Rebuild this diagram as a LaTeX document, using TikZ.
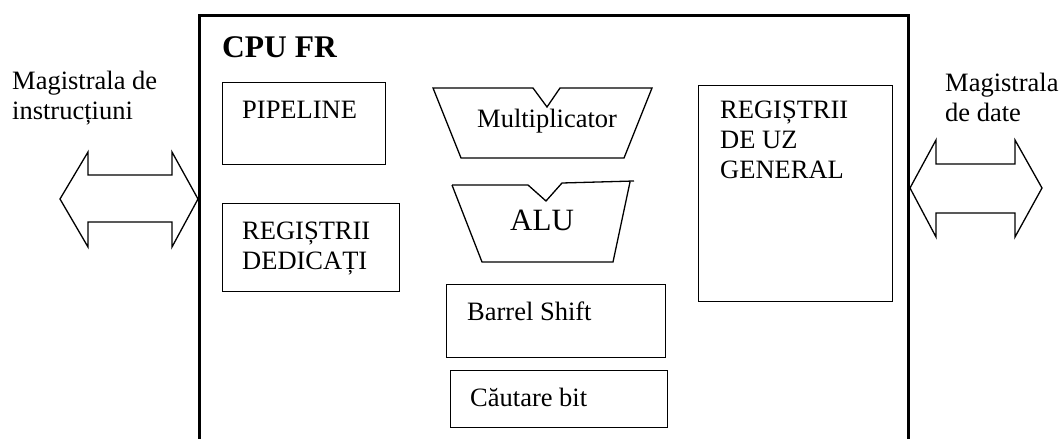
\documentclass[tikz,border=0pt]{standalone}
\usepackage{fontspec}
\setmainfont{Liberation Serif}
\begin{document}
\begin{tikzpicture}[x=1pt,y=-1pt,
  thin line/.style={draw=black,line width=1.3pt},
  cpu line/.style={draw=black,line width=3pt},
  block/.style={thin line,fill=none,inner sep=0pt,anchor=north west},
  txt/.style={anchor=base west,inner sep=0pt,font=\fontsize{26.5}{30}\selectfont},
  bigtxt/.style={anchor=base west,inner sep=0pt,font=\fontsize{31}{34}\selectfont},
  title/.style={anchor=base west,inner sep=0pt,font=\fontsize{31.5}{34}\selectfont\bfseries},
  bus/.style={thin line,line join=miter}]
\clip (0,0) rectangle (1061,439);
\fill[white] (0,0) rectangle (1061,439);

% processor outline (open at the bottom)
\draw[cpu line] (199,450) -- (199,15) -- (908,15) -- (908,450);
\node[title] (cpu) at (222,57) {CPU FR};

% left block column
\node[block,minimum width=163pt,minimum height=82pt] (pipe) at (222,82) {};
\node[txt] (pipetxt) at (242,118) {PIPELINE};
\node[block,minimum width=177pt,minimum height=88pt] (ded) at (222,203) {};
\node[txt] (dedtxt) at (242,239) {\vtop{\hbox{REGIȘTRII}\hbox{DEDICAȚI}}};

% arithmetic units
\draw[thin line,line join=miter] (433,88) -- (533,88) -- (547,107) -- (560,88) -- (652,88)
  -- (624,158) -- (461,158) -- cycle;
\node[txt] (mul) at (477,127) {Multiplicator};
\draw[thin line] (452,185) -- (528,185) -- (546,201) -- (562,183) -- (634,181);
\draw[thin line] (630,182) -- (613,262) -- (482,262) -- (452,185);
\node[bigtxt] (alu) at (510,230) {ALU};

\node[block,minimum width=219pt,minimum height=73pt] (barrel) at (446,284) {};
\node[txt] (barreltxt) at (467,320) {Barrel Shift};
\node[block,minimum width=217pt,minimum height=57pt] (cautare) at (450,370) {};
\node[txt] (cautaretxt) at (470,406) {Căutare bit};

% general purpose registers
\node[block,minimum width=194pt,minimum height=216pt] (gen) at (698,85) {};
\node[txt] (gentxt) at (720,118) {\vtop{\hbox{REGIȘTRII}\hbox{DE UZ}\hbox{GENERAL}}};

% instruction bus
\node[txt] (ibus) at (12,89) {\vtop{\hbox{Magistrala de}\hbox{instrucțiuni}}};
\draw[bus] (60,199) -- (88,152) -- (88,175) -- (172,175) -- (172,152) -- (198,199)
  -- (172,247) -- (172,222) -- (88,222) -- (88,247) -- cycle;

% data bus
\node[txt] (dbus) at (945,91) {\vtop{\hbox{Magistrala}\hbox{de date}}};
\draw[bus] (910,188) -- (936,140) -- (936,164) -- (1015,164) -- (1015,140) -- (1042,188)
  -- (1015,237) -- (1015,213) -- (936,213) -- (936,237) -- cycle;
\end{tikzpicture}
\end{document}
